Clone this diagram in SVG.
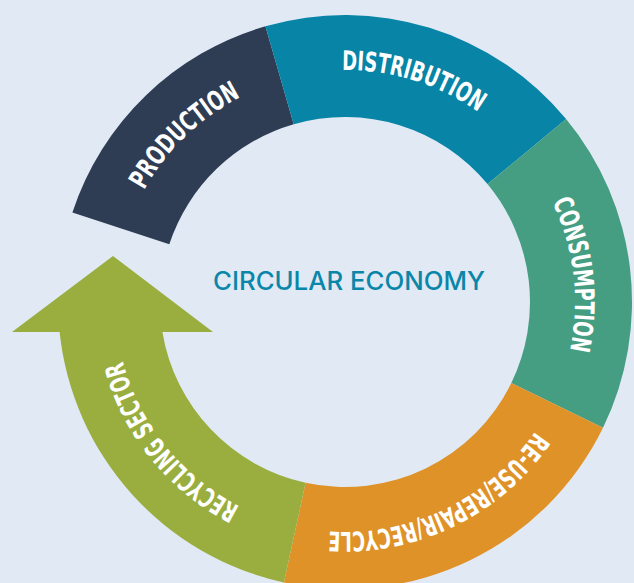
<svg xmlns="http://www.w3.org/2000/svg" width="634" height="583" viewBox="0 0 634 583">
<style>
.lbl{font-family:"DejaVu Sans Condensed","DejaVu Sans","Liberation Sans",sans-serif;font-stretch:condensed;font-weight:bold;font-size:27px;fill:#ffffff;}
.title{font-family:Inter,Lato,"Liberation Sans",sans-serif;font-weight:500;font-size:25px;fill:#0a86a8;}
</style>
<defs>
<path id="pProd" d="M126.5 230.2 A230 230 0 0 1 281.2 81"/>
<path id="pDist" d="M280.7 79.1 A232 232 0 0 1 523.8 154.1"/>
<path id="pCons" d="M522.2 155.4 A230 230 0 0 1 551.7 402.8"/>
<path id="pReuse" d="M551.7 402.8 A230 230 0 0 1 296 526.7"/>
<path id="pRecy" d="M296 526.7 A230 230 0 0 1 115 302"/>
</defs>
<rect width="634" height="583" fill="#e1e9f5"/>
<g id="production">
<path d="M72.4 212.4 A287 287 0 0 1 265.4 26.3 L293.7 124.3 A185 185 0 0 0 169.3 244.2 Z" fill="#2e3d53"/>
<text class="lbl" text-anchor="middle"><textPath href="#pProd" startOffset="50%" textLength="136" lengthAdjust="spacingAndGlyphs">PRODUCTION</textPath></text>
</g>
<g id="distribution">
<path d="M265.4 26.3 A287 287 0 0 1 566.1 119.1 L487.5 184.1 A185 185 0 0 0 293.7 124.3 Z" fill="#0784a6"/>
<text class="lbl" text-anchor="middle"><textPath href="#pDist" startOffset="50%" textLength="145" lengthAdjust="spacingAndGlyphs">DISTRIBUTION</textPath></text>
</g>
<g id="consumption">
<path d="M566.1 119.1 A287 287 0 0 1 603 427.8 L511.3 383.1 A185 185 0 0 0 487.5 184.1 Z" fill="#459e81"/>
<text class="lbl" text-anchor="middle"><textPath href="#pCons" startOffset="50%" textLength="152" lengthAdjust="spacingAndGlyphs">CONSUMPTION</textPath></text>
</g>
<g id="reuse">
<path d="M603 427.8 A287 287 0 0 1 283.9 582.4 L305.6 482.7 A185 185 0 0 0 511.3 383.1 Z" fill="#df9228"/>
<text class="lbl" text-anchor="middle"><textPath href="#pReuse" startOffset="50%" textLength="240" lengthAdjust="spacingAndGlyphs">RE-USE/REPAIR/RECYCLE</textPath></text>
</g>
<g id="recycling">
<path d="M283.9 582.4 A287 287 0 0 1 59.6 332 L12 332 L113 256 L213 332 L162.4 332 A185 185 0 0 0 305.6 482.7 Z" fill="#99ae3e"/>
<text class="lbl" text-anchor="middle"><textPath href="#pRecy" startOffset="50%" textLength="192" lengthAdjust="spacingAndGlyphs">RECYCLING SECTOR</textPath></text>
</g>
<g id="center">
<text class="title" x="349" y="290" text-anchor="middle" textLength="272" lengthAdjust="spacingAndGlyphs">CIRCULAR ECONOMY</text>
</g>
</svg>
